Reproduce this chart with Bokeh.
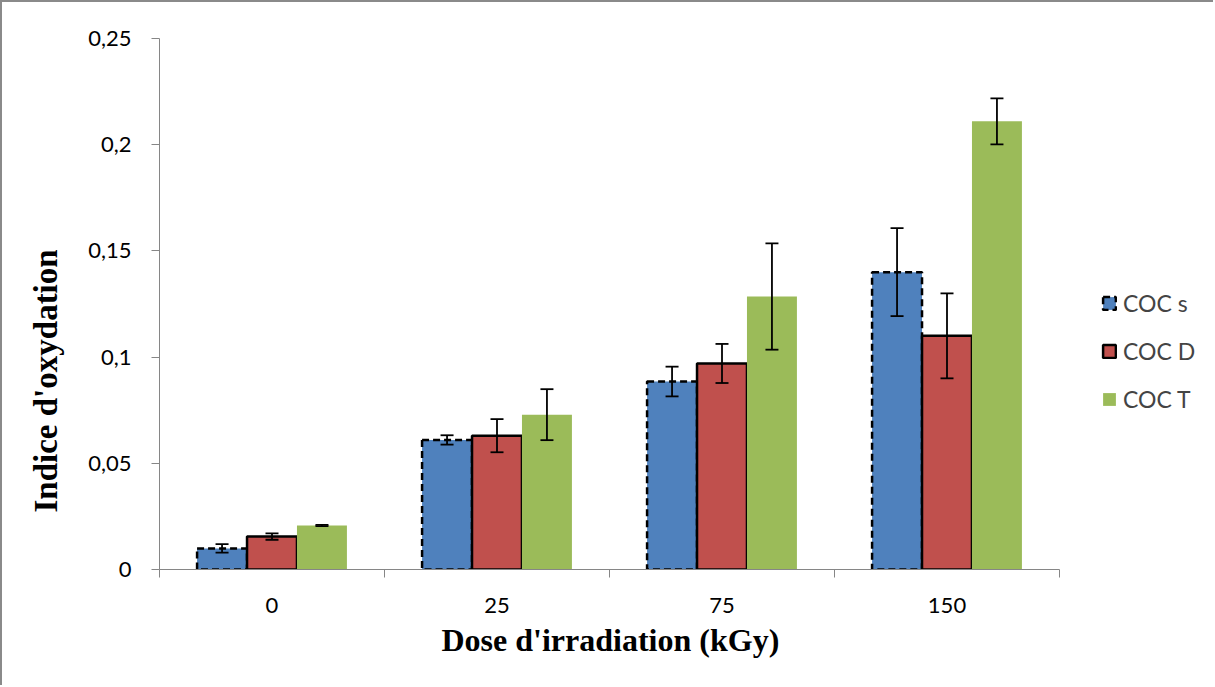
import numpy as np
from bokeh.plotting import figure
from bokeh.models import (ColumnDataSource, Range1d, FixedTicker, Whisker, TeeHead,
                          Legend, LegendItem, CustomJSTickFormatter, Title)
from bokeh.embed import file_html
from bokeh.resources import INLINE

# ---- data ----
doses = ["0", "25", "75", "150"]
series = ["COC s", "COC D", "COC T"]
coc_s = [0.0099, 0.0610, 0.0885, 0.1400]
coc_d = [0.0155, 0.0630, 0.0970, 0.1100]
coc_t = [0.0207, 0.0729, 0.1285, 0.2110]
err_s = [0.0020, 0.0022, 0.0070, 0.0207]
err_d = [0.0015, 0.0078, 0.0092, 0.0200]
err_t = [0.0003, 0.0120, 0.0250, 0.0108]
y_ticks = [0, 0.05, 0.1, 0.15, 0.2, 0.25]
x_title = "Dose d'irradiation (kGy)"
y_title = "Indice d'oxydation"

colors = ["#4F81BD", "#C0504D", "#9BBB59"]
offsets = [-0.222, 0.0, 0.222]
bar_w = 0.222

n = len(doses)
centers = np.arange(n) + 0.5

# layout (pixels)
W, H = 1213, 685
left_b, right_b, top_b, bottom_b = 157, 13, 36, 118
group_px = 225.0
frame_w = W - left_b - right_b
x_end = frame_w / group_px  # frame extends beyond the axis so the legend fits inside it

p = figure(width=W, height=H, output_backend="svg", toolbar_location=None,
           x_range=Range1d(0, x_end), y_range=Range1d(0, 0.25),
           min_border_left=left_b, min_border_right=right_b, min_border_top=top_b,
           min_border_bottom=bottom_b)
p.styles = {"border-left": "2px solid #8a8a8a", "border-top": "2px solid #8a8a8a"}
p.outline_line_color = None
p.xgrid.visible = False
p.ygrid.visible = False
p.background_fill_color = "white"
p.border_fill_color = "white"

renderers = []
for vals, errs, col, off, name in zip([coc_s, coc_d, coc_t], [err_s, err_d, err_t],
                                      colors, offsets, series):
    vals = np.array(vals)
    errs = np.array(errs)
    src = ColumnDataSource(dict(x=centers + off, top=vals,
                                upper=vals + errs, lower=vals - errs))
    if name == "COC s":
        r = p.vbar(x="x", top="top", width=bar_w, source=src, fill_color=col,
                   line_color="black", line_width=2.5, line_dash="7 4")
    elif name == "COC D":
        r = p.vbar(x="x", top="top", width=bar_w, source=src, fill_color=col,
                   line_color="black", line_width=2.5)
    else:
        r = p.vbar(x="x", top="top", width=bar_w, source=src, fill_color=col,
                   line_color=None)
    renderers.append((name, r))
    w = Whisker(base="x", upper="upper", lower="lower", source=src, level="overlay",
                line_color="black", line_width=1.8,
                upper_head=TeeHead(size=13, line_color="black", line_width=1.8),
                lower_head=TeeHead(size=13, line_color="black", line_width=1.8))
    p.add_layout(w)

# x axis
p.xaxis.bounds = (0, n)
p.xaxis.ticker = FixedTicker(ticks=list(centers), minor_ticks=list(np.arange(n + 1)))
p.xaxis.major_label_overrides = {float(c): d for c, d in zip(centers, doses)}
p.xaxis.major_tick_out = 0
p.xaxis.major_tick_in = 0
p.xaxis.minor_tick_out = 8
p.xaxis.minor_tick_in = 0
p.xaxis.axis_line_color = "#868686"
p.xaxis.minor_tick_line_color = "#868686"
p.xaxis.major_label_text_font = "Lato"
p.xaxis.major_label_text_font_size = "22px"
p.xaxis.major_label_text_color = "black"
p.xaxis.major_label_standoff = 20

# y axis
p.yaxis.ticker = FixedTicker(ticks=y_ticks, minor_ticks=[])
p.yaxis.formatter = CustomJSTickFormatter(
    code="return String(Math.round(tick*100)/100).replace('.', ',');")
p.yaxis.major_tick_out = 8
p.yaxis.major_tick_in = 0
p.yaxis.minor_tick_line_color = None
p.yaxis.axis_line_color = "#868686"
p.yaxis.major_tick_line_color = "#868686"
p.yaxis.major_label_text_font = "Lato"
p.yaxis.major_label_text_font_size = "22px"
p.yaxis.major_label_text_color = "black"
p.yaxis.major_label_standoff = 20

# axis titles (as Titles so they can be offset like the original)
xt = Title(text=x_title, align="left", offset=282, standoff=8,
           text_font="Liberation Serif", text_font_style="bold",
           text_font_size="32px", text_color="black")
p.add_layout(xt, "below")
yt = Title(text=y_title, align="left", offset=57, standoff=44,
           text_font="Liberation Serif", text_font_style="bold",
           text_font_size="33px", text_color="black")
p.add_layout(yt, "left")

legend = Legend(items=[LegendItem(label=nm, renderers=[r]) for nm, r in renderers],
                location=(942, 156), orientation="vertical",
                padding=0, margin=0, spacing=20, label_height=28,
                glyph_height=16, glyph_width=16, label_standoff=6,
                label_text_font="Lato", label_text_font_size="23px",
                background_fill_alpha=0, border_line_color=None)
p.add_layout(legend)

open("out.html", "w").write(file_html(p, INLINE))
